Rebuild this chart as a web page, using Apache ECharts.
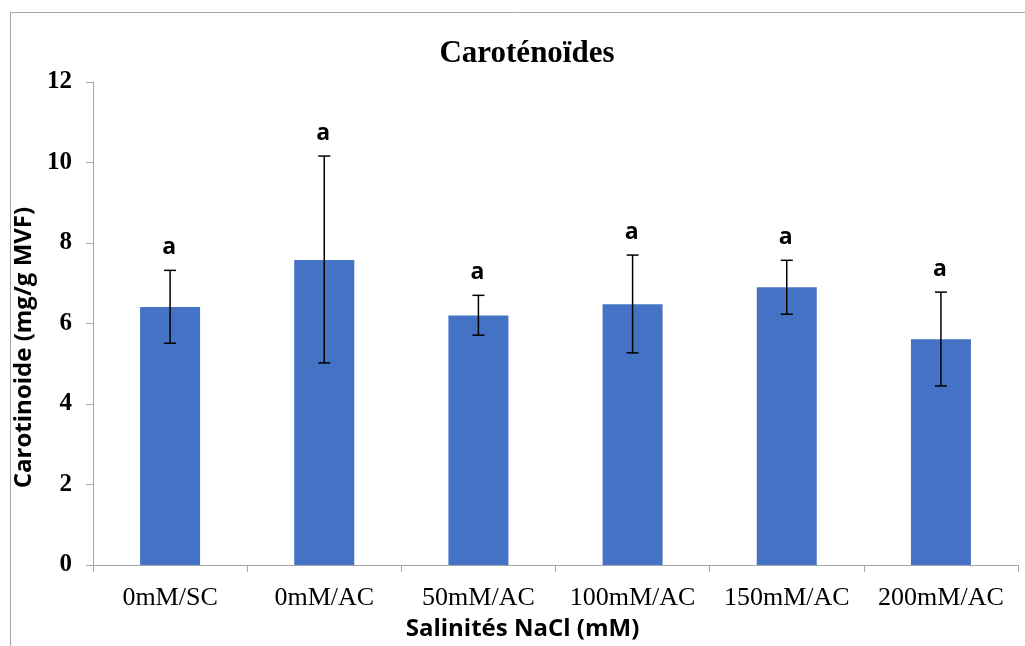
<!DOCTYPE html>
<html><head><meta charset="utf-8">
<script src="https://cdn.jsdelivr.net/npm/echarts@6/dist/echarts.min.js"></script>
<style>html,body{margin:0;padding:0;background:#fff;overflow:hidden}#c{width:1025px;height:646px}</style>
</head><body><div id="c"></div>
<script>
const categories = ['0mM/SC','0mM/AC','50mM/AC','100mM/AC','150mM/AC','200mM/AC'];
const values = [6.41, 7.58, 6.20, 6.48, 6.90, 5.61];
const errLow = [5.51, 5.02, 5.71, 5.27, 6.23, 4.45];
const errHigh = [7.32, 10.16, 6.70, 7.70, 7.57, 6.78];
const letters = ['a','a','a','a','a','a'];
const yTicks = [0, 2, 4, 6, 8, 10, 12];

const chart = echarts.init(document.getElementById('c'), null, {renderer:'canvas'});
const errData = categories.map((c,i)=>[i, errLow[i], errHigh[i], letters[i]]);
chart.setOption({
  animation:false,
  title:{text:'Caroténoïdes', left:522, top:33, textAlign:'center',
    textStyle:{fontFamily:'Liberation Serif', fontWeight:'bold', fontSize:31, color:'#000'}},
  graphic:[{type:'rect', shape:{x:10.5,y:12.5,width:1100,height:700}, style:{fill:'none', stroke:'#a6a6a6', lineWidth:1}, z:-1}],
  grid:{left:93, right:7, top:82, bottom:76, containLabel:false},
  xAxis:{type:'category', data:categories,
    axisLine:{lineStyle:{color:'#a6a6a6'}},
    axisTick:{show:true, length:7, lineStyle:{color:'#a6a6a6'}},
    axisLabel:{interval:0, hideOverlap:false, fontFamily:'Liberation Serif', fontSize:26, color:'#000', margin:20},
    name:'Salinités NaCl (mM)', nameLocation:'middle', nameGap:52,
    nameTextStyle:{fontFamily:'Open Sans', fontWeight:'bold', fontSize:24, color:'#000', padding:[0,66,0,0]}},
  yAxis:{type:'value', min:0, max:12, interval:2,
    axisLine:{show:true, lineStyle:{color:'#a6a6a6'}},
    axisTick:{show:true, length:7, lineStyle:{color:'#a6a6a6'}},
    splitLine:{show:false},
    axisLabel:{fontFamily:'Liberation Serif', fontWeight:'bold', fontSize:25, color:'#000', margin:21},
    name:'Carotinoide (mg/g MVF)', nameLocation:'middle', nameGap:56, nameRotate:90,
    nameTextStyle:{fontFamily:'Open Sans', fontWeight:'bold', fontSize:24, color:'#000', padding:[0,48,0,0]}},
  series:[
    {type:'bar', data:values, barWidth:60, itemStyle:{color:'#4472C4'}},
    {type:'custom', data:errData, z:10,
      renderItem:function(params, api){
        const x = api.value(0);
        const lo = api.coord([x, api.value(1)]);
        const hi = api.coord([x, api.value(2)]);
        const w = 6;
        const st = {stroke:'#000', lineWidth:1.5};
        return {type:'group', children:[
          {type:'line', shape:{x1:lo[0],y1:lo[1],x2:hi[0],y2:hi[1]}, style:st},
          {type:'line', shape:{x1:lo[0]-w,y1:lo[1],x2:lo[0]+w,y2:lo[1]}, style:st},
          {type:'line', shape:{x1:hi[0]-w,y1:hi[1],x2:hi[0]+w,y2:hi[1]}, style:st},
          {type:'text', x:hi[0]-1, y:hi[1]-11, style:{text:letters[params.dataIndex], fill:'#000',
            font:'bold 23px "Open Sans"', textAlign:'center', textVerticalAlign:'bottom'}}
        ]};
      }}
  ]
});
</script></body></html>
